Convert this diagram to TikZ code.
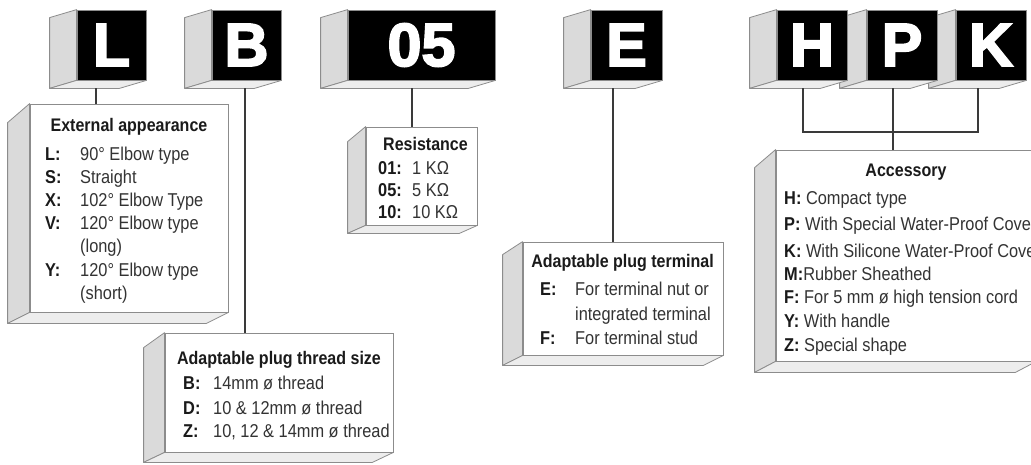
\documentclass[tikz,border=0pt]{standalone}
\usepackage{fontspec}
\setmainfont{Liberation Sans}[FakeStretch=0.88]
\newfontfamily\heavy{Liberation Sans Bold}[FakeBold=3]
\definecolor{edge}{HTML}{8C8C8C}
\definecolor{sidefill}{HTML}{DADADA}
\definecolor{stripfill}{HTML}{EDEDED}
\definecolor{txt}{HTML}{333333}
\definecolor{lab}{HTML}{1A1A1A}
\definecolor{wire}{HTML}{3A3A3A}
\tikzset{
  face/.style={draw=edge, line width=0.8pt, fill=black, text=white, inner sep=0pt,
    minimum height=70pt, font=\heavy\fontsize{61}{61}\selectfont},
  tbox/.style={draw=edge, line width=0.8pt, fill=white, inner sep=0pt},
  sidepanel/.style={draw=edge, line width=0.8pt, fill=sidefill, line join=round},
  strippanel/.style={draw=edge, line width=0.8pt, fill=stripfill, line join=round},
  conn/.style={draw=wire, line width=1.3pt},
  ttl/.style={anchor=base, text=lab, inner sep=0pt, font=\bfseries\fontsize{18.2}{18.2}\selectfont},
  lbl/.style={anchor=base west, text=lab, inner sep=0pt, font=\bfseries\fontsize{18.6}{18.6}\selectfont},
  body/.style={anchor=base west, text=txt, inner sep=0pt, font=\fontsize{18.6}{18.6}\selectfont},
}
% letter box: name, centre x, width, text
\newcommand\lettbox[4]{%
  \node[face, minimum width=#3pt] (#1) at (#2,45) {#4};
  \path[sidepanel] (#1.north west) -- ++(-27,8) -- ([shift={(-27,8)}]#1.south west) -- (#1.south west) -- cycle;
  \path[strippanel] (#1.south west) -- (#1.south east) -- ([shift={(-27,8)}]#1.south east) -- ([shift={(-27,8)}]#1.south west) -- cycle;
}
% text box: name, centre x, centre y, width, height, dx, dy top, dy bottom
\newcommand\textbox[8]{%
  \node[tbox, minimum width=#4pt, minimum height=#5pt] (#1) at (#2,#3) {};
  \path[sidepanel] (#1.north west) -- ++(#6,#7) -- ([shift={(#6,#8)}]#1.south west) -- (#1.south west) -- cycle;
  \path[strippanel] (#1.south west) -- (#1.south east) -- ([shift={(#6,#8)}]#1.south east) -- ([shift={(#6,#8)}]#1.south west) -- cycle;
}
\begin{document}
\begin{tikzpicture}[x=1pt, y=-1pt]
\useasboundingbox (0,0) rectangle (1031,464);
\clip (0,0) rectangle (1031,464);
% letter boxes (right to left so that left ones lie in front)
\lettbox{K}{991}{70}{K}
\lettbox{P}{902}{70}{P}
\lettbox{H}{812}{70}{H}
\lettbox{E}{626.5}{71}{E}
\lettbox{R}{421.5}{147}{05}
\lettbox{B}{246.5}{69}{B}
\lettbox{L}{111.5}{69}{L}
% text boxes
\textbox{ext}{129}{208}{198}{208}{-22}{19}{11}
\textbox{thr}{279}{392.5}{228}{119}{-21}{15}{10}
\textbox{res}{421.5}{176}{111}{98}{-18}{15}{8}
\textbox{ter}{623}{298.5}{200}{113}{-20}{13}{10}
\textbox{acc}{906}{255.5}{260}{211}{-21}{18}{11}
% connectors
\coordinate (cL) at (96,88);
\coordinate (cB) at (245,88);
\coordinate (cR) at (412,88);
\coordinate (cE) at (613,88);
\coordinate (cH) at (803,88);
\coordinate (cP) at (893,88);
\coordinate (cK) at (978,88);
\coordinate (jH) at (803,132);
\coordinate (jK) at (978,132);
\draw[conn] (cL) -- (cL |- ext.north);
\draw[conn] (cB) -- (cB |- thr.north);
\draw[conn] (cR) -- (cR |- res.north);
\draw[conn] (cE) -- (cE |- ter.north);
\draw[conn] (cH) -- (jH) -- (jK) -- (cK);
\draw[conn] (cP) -- (cP |- acc.north);
% External appearance
\node[ttl] (extT) at (129,131) {External appearance};
\node[lbl] (extL1) at (45,160) {L:};  \node[body] (extB1) at (80,160) {90° Elbow type};
\node[lbl] (extL2) at (45,183) {S:};  \node[body] (extB2) at (80,183) {Straight};
\node[lbl] (extL3) at (45,206) {X:};  \node[body] (extB3) at (80,206) {102° Elbow Type};
\node[lbl] (extL4) at (45,229) {V:};  \node[body] (extB4) at (80,229) {120° Elbow type};
\node[body] (extB5) at (80,252) {(long)};
\node[lbl] (extL6) at (45,276) {Y:};  \node[body] (extB6) at (80,276) {120° Elbow type};
\node[body] (extB7) at (80,299) {(short)};
% Thread size
\node[ttl] (thrT) at (279,364) {Adaptable plug thread size};
\node[lbl] (thrL1) at (183,389) {B:}; \node[body] (thrB1) at (213,389) {14mm ø thread};
\node[lbl] (thrL2) at (183,414) {D:}; \node[body] (thrB2) at (213,414) {10 \& 12mm ø thread};
\node[lbl] (thrL3) at (183,437) {Z:}; \node[body] (thrB3) at (213,437) {10, 12 \& 14mm ø thread};
% Resistance
\node[ttl] (resT) at (425.5,150) {Resistance};
\node[lbl] (resL1) at (378,174) {01:}; \node[body] (resB1) at (412,174) {1 KΩ};
\node[lbl] (resL2) at (378,196) {05:}; \node[body] (resB2) at (412,196) {5 KΩ};
\node[lbl] (resL3) at (378,218) {10:}; \node[body] (resB3) at (412,218) {10 KΩ};
% Terminal
\node[ttl] (terT) at (622.5,267) {Adaptable plug terminal};
\node[lbl] (terL1) at (540,295) {E:}; \node[body] (terB1) at (575,295) {For terminal nut or};
\node[body] (terB2) at (575,320) {integrated terminal};
\node[lbl] (terL3) at (540,344) {F:}; \node[body] (terB3) at (575,344) {For terminal stud};
% Accessory
\node[ttl] (accT) at (906,176) {Accessory};
\node[body] (acc1) at (784,204) {\textcolor{lab}{\bfseries H:} Compact type};
\node[body] (acc2) at (784,230) {\textcolor{lab}{\bfseries P:} With Special Water-Proof Cover};
\node[body] (acc3) at (784,257) {\textcolor{lab}{\bfseries K:} With Silicone Water-Proof Cover};
\node[body] (acc4) at (784,280) {\textcolor{lab}{\bfseries M:}Rubber Sheathed};
\node[body] (acc5) at (784,303) {\textcolor{lab}{\bfseries F:} For 5 mm ø high tension cord};
\node[body] (acc6) at (784,327) {\textcolor{lab}{\bfseries Y:} With handle};
\node[body] (acc7) at (784,351) {\textcolor{lab}{\bfseries Z:} Special shape};
\end{tikzpicture}
\end{document}
